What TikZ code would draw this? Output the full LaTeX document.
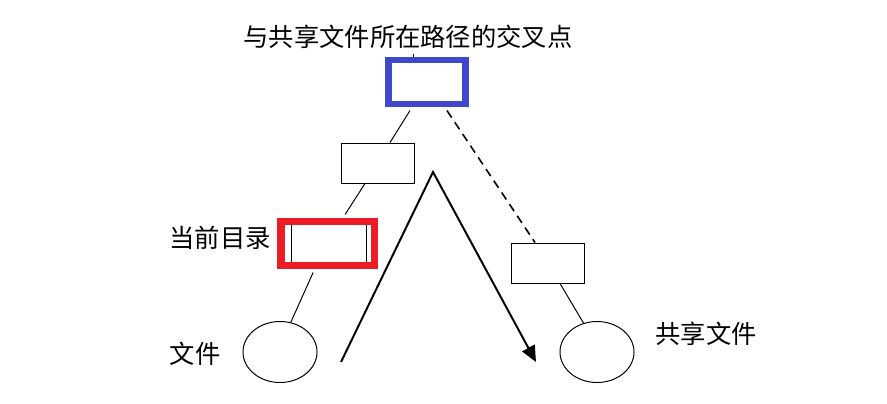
\documentclass[tikz,border=0pt]{standalone}
\usepackage{fontspec}
\newfontfamily\cjk{Noto Sans CJK SC}
\usetikzlibrary{arrows.meta, shapes.geometric}
\definecolor{crossblue}{RGB}{63,72,204}
\definecolor{curred}{RGB}{237,28,36}

\begin{document}
\begin{tikzpicture}[x=0.025cm, y=-0.025cm, font=\cjk\fontsize{18}{21}\selectfont,
  dirbox/.style={draw, line width=0.7pt, fill=white, minimum width=1.825cm, minimum height=1cm, inner sep=0pt},
  filenode/.style={draw, line width=0.7pt, ellipse, minimum width=1.85cm, minimum height=1.525cm, inner sep=0pt},
  link/.style={line width=0.7pt}]
  \useasboundingbox (0,0) rectangle (887,403);
  % tree
  \node[dirbox, draw=crossblue, line width=4.3pt, minimum width=1.925cm, minimum height=1.1cm] (cross) at (427,82) {};
  \node (title) at (408,37) {与共享文件所在路径的交叉点};
  \node[dirbox] (dir) at (378,163) {};
  \node[dirbox, minimum width=1.875cm] (cur) at (328.5,243) {};
  \node[draw=curred, line width=5pt, minimum width=2.325cm, minimum height=1.1cm, inner sep=0pt] (curmark) at (327.5,243.5) {};
  \node[dirbox] (shdir) at (548,263) {};
  \node[filenode] (file) at (280,352) {};
  \node[filenode] (shfile) at (597,352) {};
  \node (curlabel) at (220,238) {当前目录};
  \node (filelabel) at (195,354) {文件};
  \node (shlabel) at (706,334) {共享文件};
  % connectors
  \draw[link] ([xshift=-0.35cm]cross.north) -- ([xshift=-0.35cm]cross.north |- title.south);
  \draw[link] ([xshift=-0.425cm,yshift=-2.5pt]cross.south) -- ([xshift=0.3cm]dir.north);
  \draw[link] ([xshift=-0.325cm]dir.south) -- ([xshift=0.44cm,yshift=2.5pt]curmark.north);
  \draw[link] ([xshift=-0.36cm,yshift=-2.5pt]curmark.south) -- (file.70);
  \draw[line width=1.1pt, dash pattern=on 6pt off 4pt] ([xshift=0.5cm,yshift=-2.5pt]cross.south) -- ([xshift=-0.325cm]shdir.north);
  \draw[link] ([xshift=0.3cm]shdir.south) -- (shfile.115);
  % path of the walk
  \coordinate (walkA) at (341,362);
  \coordinate (apex) at (433,172);
  \coordinate (walkB) at (536,362);
  \draw[line width=1.4pt, -{Triangle[length=0.4cm, width=0.35cm]}] (walkA) -- (apex) -- (walkB);
\end{tikzpicture}
\end{document}
